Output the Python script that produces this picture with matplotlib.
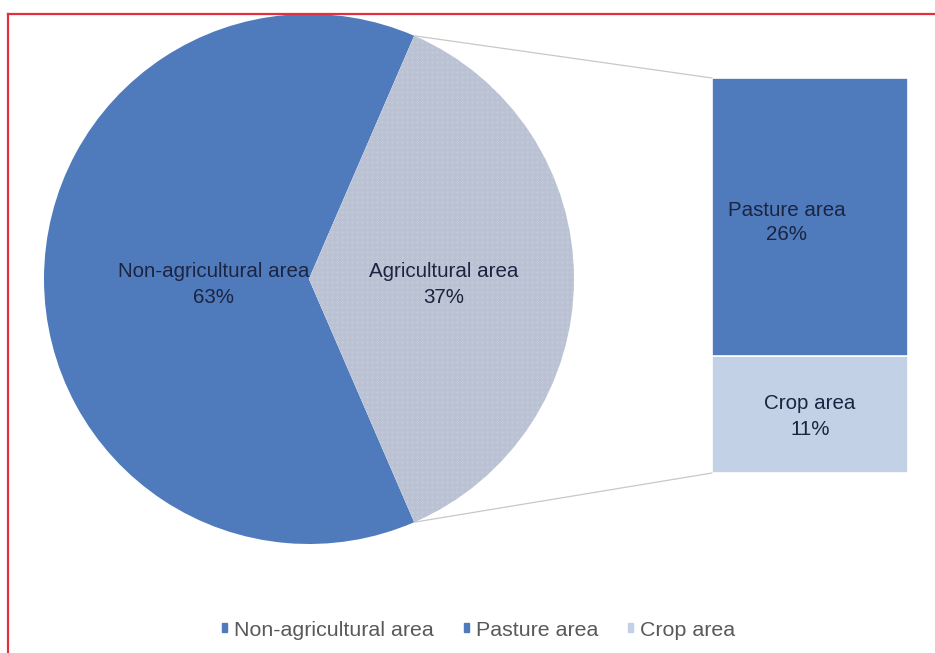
import matplotlib.pyplot as plt
from matplotlib.patches import ConnectionPatch, Patch
from matplotlib.lines import Line2D
import numpy as np

plt.rcParams['font.family'] = ['Liberation Sans', 'DejaVu Sans']
plt.rcParams['hatch.linewidth'] = 0.45

# land use shares (%)
pie_labels = ["Non-agricultural area", "Agricultural area"]
pie_values = [63, 37]
bar_labels = ["Crop area", "Pasture area"]
bar_values = [11, 26]
legend_labels = ["Non-agricultural area", "Pasture area", "Crop area"]

blue = "#4f7bbd"
light_blue = "#c3d1e7"
text_col = "#1b2440"
fs = 14.8

fig = plt.figure(figsize=(9.35, 6.53), dpi=100)
W, H = 935, 653

# pie axes
cx, cy, r = 309, 279, 265
ax1 = fig.add_axes([(cx - r) / W, (H - cy - r) / H, 2 * r / W, 2 * r / H])
half = pie_values[1] / 100 * 360 / 2
wedges, _ = ax1.pie(pie_values, startangle=half, counterclock=True,
                    colors=[blue, "#f3f5fa"], radius=1,
                    wedgeprops=dict(linewidth=0))
wedges[1].set_edgecolor("#b9c1d3")
wedges[1].set_hatch("x" * 20)
ax1.set_xlim(-1, 1)
ax1.set_ylim(-1, 1)
ax1.axis("off")

ax1.text(-0.36, -0.02, f"{pie_labels[0]}\n{pie_values[0]}%", ha="center",
         va="center", fontsize=fs, color=text_col, linespacing=1.45)
ax1.text(0.51, -0.02, f"{pie_labels[1]}\n{pie_values[1]}%", ha="center",
         va="center", fontsize=fs, color=text_col, linespacing=1.45)

# stacked bar splitting the agricultural share
bx0, bx1, by0, by1 = 712, 908, 78, 473
ax2 = fig.add_axes([bx0 / W, (H - by1) / H, (bx1 - bx0) / W, (by1 - by0) / H])
bottom = 0
cols = [light_blue, blue]
for lab, val, c in zip(bar_labels, bar_values, cols):
    ax2.bar(0, val, width=1, bottom=bottom, color=c, edgecolor="white",
            linewidth=1.2)
    bottom += val
ax2.set_xlim(-0.5, 0.5)
ax2.set_ylim(0, sum(bar_values))
ax2.axis("off")

ax2.text(0, bar_values[0] / 2 - 0.2, f"{bar_labels[0]}\n{bar_values[0]}%",
         ha="center", va="center", fontsize=fs, color=text_col, linespacing=1.45)
ax2.text(-0.12, bar_values[0] + bar_values[1] * 0.48,
         f"{bar_labels[1]}\n{bar_values[1]}%", ha="center", va="center",
         fontsize=fs, color=text_col, linespacing=1.3)

# lines joining the pie slice to the bar
for ang, yb in [(half, sum(bar_values)), (-half, 0)]:
    a = np.deg2rad(ang)
    con = ConnectionPatch(xyA=(np.cos(a), np.sin(a)), coordsA=ax1.transData,
                          xyB=(-0.5, yb), coordsB=ax2.transData,
                          color="#c8c8c8", linewidth=0.9)
    fig.add_artist(con)

# legend, one entry at a time
leg_x = [222, 464, 628]
leg_cols = [blue, blue, light_blue]
for x, lab, c in zip(leg_x, legend_labels, leg_cols):
    fig.legend([Patch(color=c)], [lab], loc="center left",
               bbox_to_anchor=(x / W, 1 - 630 / H), frameon=False,
               fontsize=15.4, handlelength=0.25, handleheight=0.25,
               handletextpad=0.3, borderpad=0, borderaxespad=0,
               labelcolor="#595959")

# red frame
fig.add_artist(Line2D([8 / W, 1], [1 - 14 / H] * 2, color="#e3303f",
                      linewidth=1.6, transform=fig.transFigure))
fig.add_artist(Line2D([8 / W] * 2, [0, 1 - 14 / H], color="#e3303f",
                      linewidth=1.6, transform=fig.transFigure))

fig.savefig("out.png", dpi=100, facecolor="white")
